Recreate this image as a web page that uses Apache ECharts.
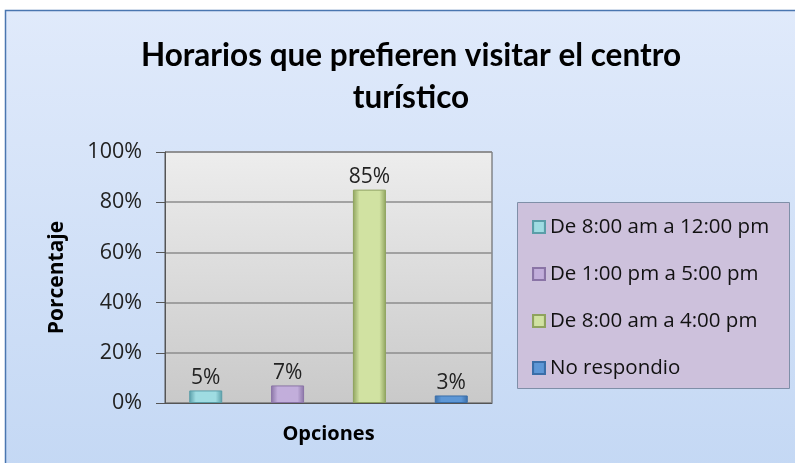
<!DOCTYPE html>
<html>
  <head>
    <meta charset="utf-8" />
    <title>Horarios que prefieren visitar el centro turístico</title>
    <script src="https://cdn.jsdelivr.net/npm/echarts@6/dist/echarts.min.js"></script>
    <style>
      body {
        margin: 0;
        padding: 0;
        background: #ffffff;
      }
      #main {
        width: 795px;
        height: 463px;
      }
    </style>
  </head>
  <body>
    <div id="main"></div>
    <script type="text/javascript">
      var seriesNames = [
        "De 8:00 am a 12:00 pm",
        "De 1:00 pm a 5:00 pm",
        "De 8:00 am a 4:00 pm",
        "No respondio",
      ];
      var seriesValues = [5, 7, 85, 3];
      var seriesColors = ["#9fdce2", "#c2aedb", "#d1e2a2", "#5d97d6"];
      var borderColors = ["#5a9ea8", "#8a74a6", "#8fa35e", "#3a6ea8"];
      var categories = ["Opciones"];
      var yTicks = [0, 20, 40, 60, 80, 100];

      var titleFont = "Lato, 'Noto Sans', sans-serif";
      var textFont = "'Open Sans', 'Noto Sans', sans-serif";
      var myChart = echarts.init(document.getElementById("main"));

      var series = seriesNames.map(function (name, i) {
        return {
          name: name,
          type: "bar",
          data: [seriesValues[i]],
          barWidth: 33,
          barGap: "148%",
          itemStyle: {
            color: {
              type: "linear",
              x: 0, y: 0, x2: 1, y2: 0,
              colorStops: [
                { offset: 0, color: borderColors[i] },
                { offset: 0.2, color: seriesColors[i] },
                { offset: 0.8, color: seriesColors[i] },
                { offset: 1, color: borderColors[i] },
              ],
            },
            borderColor: borderColors[i],
            borderWidth: 1,
          },
          label: {
            show: true,
            position: "top",
            distance: 2,
            formatter: "{c}%",
            fontSize: 21,
            fontFamily: textFont,
            color: "#222",
          },
        };
      });

      var option = {
        animation: false,
        graphic: [
          {
            type: "rect",
            z: -10,
            shape: { x: 5.5, y: 10.5, width: 800, height: 460 },
            style: {
              fill: {
                type: "linear",
                x: 0, y: 0, x2: 0, y2: 1,
                colorStops: [
                  { offset: 0, color: "#e0eafb" },
                  { offset: 1, color: "#c4d8f4" },
                ],
              },
              stroke: "#4a76b0",
              lineWidth: 1.5,
            },
          },
          {
            type: "rect",
            z: -5,
            shape: { x: 517.5, y: 202.5, width: 272, height: 186 },
            style: { fill: "#cdc1dc", stroke: "#7f8fa8", lineWidth: 1 },
          },
        ],
        title: {
          text: "Horarios que prefieren visitar el centro\nturístico",
          left: 406,
          top: 30,
          textAlign: "center",
          textStyle: {
            fontFamily: titleFont,
            fontSize: 31.5,
            fontWeight: "bold",
            lineHeight: 42,
            color: "#000",
          },
        },
        legend: {
          orient: "vertical",
          left: 527,
          top: 208,
          itemGap: 19,
          itemWidth: 12,
          itemHeight: 12,
          icon: "rect",
          data: seriesNames,
          textStyle: {
            fontFamily: textFont,
            fontSize: 20.5,
            color: "#111",
            lineHeight: 28,
          },
        },
        grid: {
          left: 165,
          top: 152,
          width: 327,
          height: 251,
          show: true,
          borderColor: "#555",
          borderWidth: 1,
          backgroundColor: {
            type: "linear",
            x: 0, y: 0, x2: 0, y2: 1,
            colorStops: [
              { offset: 0, color: "#ededed" },
              { offset: 1, color: "#c9c9c9" },
            ],
          },
        },
        xAxis: {
          type: "category",
          data: categories,
          name: "Opciones",
          nameLocation: "middle",
          nameGap: 21,
          nameTextStyle: {
            fontFamily: textFont,
            fontSize: 20,
            fontWeight: "bold",
            color: "#000",
          },
          axisLabel: { show: false },
          axisTick: { show: false },
          axisLine: { lineStyle: { color: "#555" } },
        },
        yAxis: {
          type: "value",
          min: yTicks[0],
          max: yTicks[yTicks.length - 1],
          interval: yTicks[1] - yTicks[0],
          name: "Porcentaje",
          nameLocation: "middle",
          nameGap: 97,
          nameRotate: 90,
          nameTextStyle: {
            fontFamily: textFont,
            fontSize: 21,
            fontWeight: "bold",
            color: "#000",
          },
          axisLine: { show: true, lineStyle: { color: "#555" } },
          axisTick: { show: true, length: 9, lineStyle: { color: "#555" } },
          axisLabel: {
            formatter: "{value}%",
            fontFamily: textFont,
            fontSize: 21.5,
            color: "#222",
            margin: 23,
          },
          splitLine: { lineStyle: { color: "#8c8c8c", width: 1.5 } },
        },
        series: series,
      };

      myChart.setOption(option);
    </script>
  </body>
</html>
